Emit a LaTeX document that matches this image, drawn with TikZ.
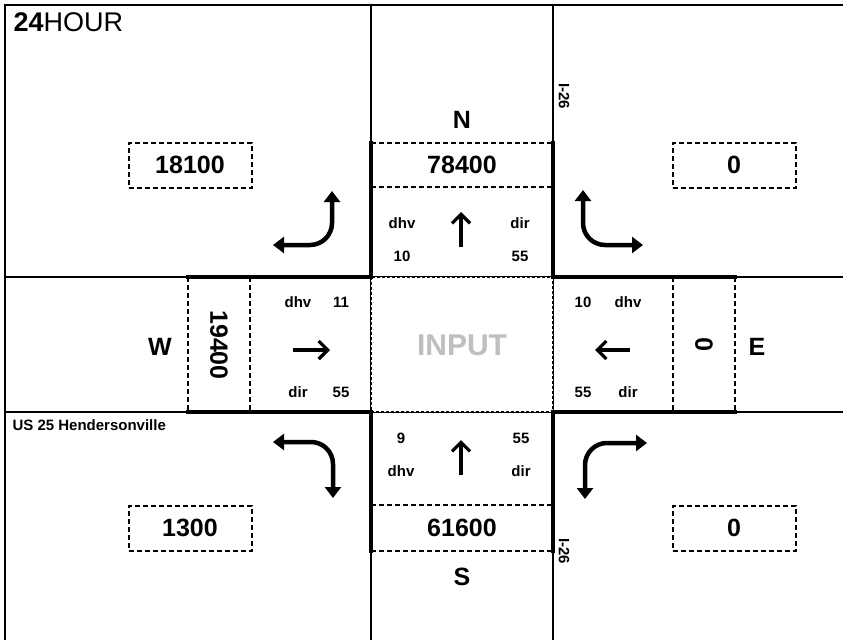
\documentclass[tikz,border=0pt]{standalone}
\usepackage{fontspec}
\setmainfont{Liberation Sans}
\usepackage{tikz}
\usetikzlibrary{arrows.meta}

\begin{document}
\begin{tikzpicture}[x=1pt,y=-1pt,
  grid/.style={line width=1.3pt},
  heavy/.style={line width=4pt,line cap=rect},
  dashbox/.style={line width=2pt,dash pattern=on 5pt off 3pt},
  dotbox/.style={line width=2.6pt,dash pattern=on 3pt off 2pt},
  big/.style={font=\fontsize{25}{25}\selectfont\bfseries},
  small/.style={font=\fontsize{15}{15}\selectfont\bfseries},
  volbox/.style={big,draw,dashbox,minimum width=123pt,minimum height=45pt,inner sep=0pt},
  turn/.style={line width=4.5pt,rounded corners=22pt,{Triangle[width=16pt,length=11pt]}-{Triangle[width=16pt,length=11pt]}},
  lane/.style={line width=3.3pt,-{Straight Barb[width=18pt,length=9pt,line width=3.3pt]}}]
\useasboundingbox (0,0) rectangle (843,640);
% sheet grid
\draw[grid] (5,640) -- (5,5) -- (843,5);
\foreach \x in {371,553}
  \draw[grid] (\x,5) -- (\x,640);
\foreach \y in {277,412}
  \draw[grid] (5,\y) -- (843,\y);
% approaches
\draw[dotbox,fill=white] (371,277) rectangle (553,412);
\draw[dashbox] (371,143) -- (553,143) (371,187) -- (553,187);
\draw[dashbox] (371,505) -- (553,505) (371,551) -- (553,551);
\draw[dashbox] (188,277) -- (188,412) (250,277) -- (250,412);
\draw[dashbox] (673,277) -- (673,412) (735,277) -- (735,412);
\draw[heavy] (371,143) -- (371,277) (553,143) -- (553,277);
\draw[heavy] (371,412) -- (371,551) (553,412) -- (553,551);
\draw[heavy] (188,277) -- (371,277) (188,412) -- (371,412);
\draw[heavy] (553,277) -- (735,277) (553,412) -- (735,412);
% volumes
\node[volbox] (nwvol) at (190,165) {18100};
\node[volbox] (nevol) at (734,165) {0};
\node[volbox] (swvol) at (190,528) {1300};
\node[volbox] (sevol) at (734,528) {0};
\node[big] (nvol) at (462,165) {78400};
\node[big] (svol) at (462,528) {61600};
\node[big,rotate=-90] (wvol) at (219,345) {19400};
\node[big,rotate=90] (evol) at (704,345) {0};
\node[font=\fontsize{30}{30}\selectfont\bfseries,text=black!25] (input) at (462,345) {INPUT};
% directions
\node[big] (north) at (462,120) {N};
\node[big] (south) at (462,577) {S};
\node[big] (west) at (160,347) {W};
\node[big] (east) at (757,347) {E};
\node[anchor=base west,font=\fontsize{27}{27}\selectfont] (title) at (10,31) {\textbf{24}HOUR};
\node[small,anchor=west] (road) at (9,425) {US 25 Hendersonville};
\node[small,rotate=-90] (i26n) at (564,96) {I-26};
\node[small,rotate=-90] (i26s) at (564,551) {I-26};
% lane labels
\foreach \x/\y/\t in {402/223/dhv,402/256/10,520/223/dir,520/256/55,
    298/302/dhv,341/302/11,298/392/dir,341/392/55,
    583/302/10,628/302/dhv,583/392/55,628/392/dir,
    401/438/9,521/438/55,401/471/dhv,521/471/dir}
  \node[small] (lbl-\x-\y) at (\x,\y) {\t};
% through lanes
\draw[lane] (461,247) -- (461,212);
\draw[lane] (461,475) -- (461,440);
\draw[lane] (293,350) -- (330,350);
\draw[lane] (630,350) -- (595,350);
% turns
\draw[turn] (273,245) -- (332,245) -- (332,191);
\draw[turn] (583,190) -- (583,245) -- (643,245);
\draw[turn] (273,442) -- (333,442) -- (333,498);
\draw[turn] (647,443) -- (585,443) -- (585,499);
\end{tikzpicture}
\end{document}
